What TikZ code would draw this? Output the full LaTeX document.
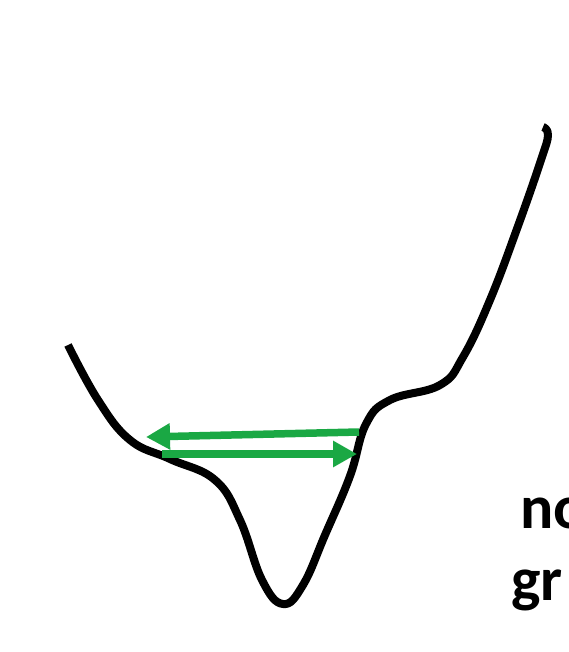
\documentclass[tikz,border=0pt]{standalone}
\usepackage{fontspec}
\setmainfont{Carlito}
\usetikzlibrary{arrows.meta}
\definecolor{arrowgreen}{RGB}{26,168,68}
\tikzset{
  curve/.style={line width=8pt, black, line cap=butt, line join=round},
  greenarrow/.style={line width=7.5pt, arrowgreen, -{Triangle[length=24pt,width=25pt]}},
  label/.style={font=\fontsize{62}{72}\selectfont\bfseries, inner sep=0pt, anchor=base west}
}
\begin{document}
\begin{tikzpicture}[x=1pt,y=-1pt]
\useasboundingbox (0,0) rectangle (568,652);
\clip (0,0) rectangle (568,652);
\draw[curve] plot[smooth, tension=0.7] coordinates {
 (68,345) (98,400) (130,440) (170,459) (215,480) (240,520)
 (262,580) (283,604) (303,585) (325,535) (350,476) (366,424) (390,400)
 (440,385) (463,357) (490,300) (518,226) (541,160) (548,135) (543,127)};
\coordinate (a1s) at (359,432);
\coordinate (a1e) at (146,437);
\coordinate (a2s) at (162,454);
\coordinate (a2e) at (357,454);
\draw[greenarrow] (a1s) -- (a1e);
\draw[greenarrow] (a2s) -- (a2e);
\node[label] (t1) at (520,528) {no};
\node[label] (t2) at (511,600) {gr};
\end{tikzpicture}
\end{document}
